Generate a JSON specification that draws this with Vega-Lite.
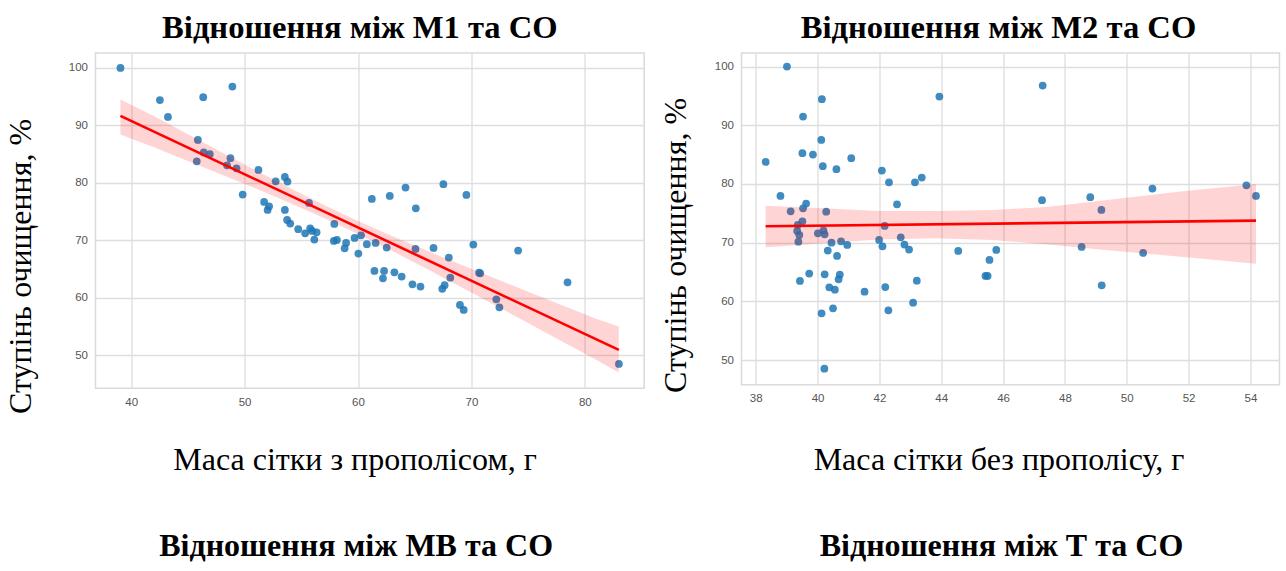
{
  "$schema": "https://vega.github.io/schema/vega-lite/v6.json",
  "background": "white",
  "padding": {"left": 2.5, "top": 11, "right": 0, "bottom": 0},
  "bounds": "flush",
  "columns": 2,
  "spacing": {"row": 157, "column": 97},
  "config": {
    "view": {"stroke": "#dadada", "strokeWidth": 1.5},
    "axis": {
      "labelFont": "Liberation Sans", "labelFontSize": 11.5, "labelColor": "#555555", "labelPadding": 8,
      "titleFont": "Liberation Serif", "titleFontSize": 32, "titleFontWeight": "normal", "titleColor": "#000000",
      "gridColor": "#dedede", "gridWidth": 1.3, "domain": false, "ticks": false
    },
    "title": {"font": "Liberation Serif", "fontSize": 32.6, "fontWeight": "bold", "color": "#000000", "baseline": "alphabetic", "offset": 8}
  },
  "datasets": {
    "pts1": [
      {"x": 39.05, "y": 100}, {"x": 42.53, "y": 94.4}, {"x": 46.35, "y": 94.9}, {"x": 48.92, "y": 96.75}, {"x": 43.24, "y": 91.47},
      {"x": 45.88, "y": 87.47}, {"x": 45.78, "y": 83.76}, {"x": 46.39, "y": 85.3}, {"x": 46.93, "y": 85.0}, {"x": 48.75, "y": 84.3},
      {"x": 48.45, "y": 83.06}, {"x": 49.29, "y": 82.54}, {"x": 51.22, "y": 82.25}, {"x": 49.83, "y": 77.96}, {"x": 52.74, "y": 80.28},
      {"x": 53.55, "y": 81.03}, {"x": 53.78, "y": 80.22}, {"x": 51.72, "y": 76.68}, {"x": 52.16, "y": 75.93}, {"x": 52.03, "y": 75.29},
      {"x": 53.55, "y": 75.29}, {"x": 53.75, "y": 73.55}, {"x": 54.02, "y": 72.91}, {"x": 54.73, "y": 71.93}, {"x": 55.34, "y": 71.23},
      {"x": 55.68, "y": 76.51}, {"x": 55.78, "y": 72.1}, {"x": 55.95, "y": 71.64}, {"x": 56.35, "y": 71.4}, {"x": 56.15, "y": 70.13},
      {"x": 57.91, "y": 72.85}, {"x": 57.87, "y": 69.9}, {"x": 58.14, "y": 70.07}, {"x": 58.95, "y": 69.55}, {"x": 58.82, "y": 68.62},
      {"x": 59.7, "y": 70.42}, {"x": 60.27, "y": 70.88}, {"x": 60.03, "y": 67.69}, {"x": 60.78, "y": 69.32}, {"x": 61.55, "y": 69.55},
      {"x": 62.53, "y": 68.74}, {"x": 61.22, "y": 77.2}, {"x": 62.8, "y": 77.73}, {"x": 64.19, "y": 79.18}, {"x": 65.1, "y": 75.58},
      {"x": 67.53, "y": 79.76}, {"x": 69.56, "y": 77.9}, {"x": 65.07, "y": 68.5}, {"x": 66.66, "y": 68.68}, {"x": 68.01, "y": 67.0},
      {"x": 70.17, "y": 69.26}, {"x": 74.12, "y": 68.21}, {"x": 61.45, "y": 64.68}, {"x": 62.3, "y": 64.68}, {"x": 62.2, "y": 63.4},
      {"x": 63.21, "y": 64.44}, {"x": 63.85, "y": 63.69}, {"x": 64.8, "y": 62.35}, {"x": 65.51, "y": 61.95}, {"x": 68.14, "y": 63.51},
      {"x": 67.43, "y": 61.57}, {"x": 67.64, "y": 62.2}, {"x": 70.68, "y": 64.38}, {"x": 70.78, "y": 64.27}, {"x": 68.99, "y": 58.76},
      {"x": 69.32, "y": 57.89}, {"x": 72.2, "y": 59.74}, {"x": 72.47, "y": 58.35}, {"x": 78.48, "y": 62.7}, {"x": 83.01, "y": 48.49}
    ],
    "band1": [
      {"x": 39.05, "lo": 88.4, "hi": 94.5}, {"x": 42, "lo": 86.19, "hi": 91.65}, {"x": 45, "lo": 83.82, "hi": 88.46},
      {"x": 48, "lo": 81.43, "hi": 85.29}, {"x": 51, "lo": 79.0, "hi": 82.16}, {"x": 54, "lo": 76.51, "hi": 79.09},
      {"x": 57, "lo": 73.9, "hi": 76.14}, {"x": 60, "lo": 71.12, "hi": 73.36}, {"x": 63, "lo": 68.17, "hi": 70.75},
      {"x": 66, "lo": 65.1, "hi": 68.26}, {"x": 69, "lo": 61.97, "hi": 65.83}, {"x": 72, "lo": 58.8, "hi": 63.44},
      {"x": 75, "lo": 55.61, "hi": 61.07}, {"x": 78, "lo": 52.41, "hi": 58.71}, {"x": 81, "lo": 49.2, "hi": 56.36},
      {"x": 83.0, "lo": 47.0, "hi": 55.0}
    ],
    "line1": [{"x": 39.05, "y": 91.65}, {"x": 83.0, "y": 50.93}],
    "pts2": [
      {"x": 39.01, "y": 100}, {"x": 38.32, "y": 83.75}, {"x": 38.8, "y": 77.95}, {"x": 39.13, "y": 75.34}, {"x": 40.14, "y": 94.43},
      {"x": 39.53, "y": 91.48}, {"x": 40.12, "y": 87.5}, {"x": 39.51, "y": 85.23}, {"x": 39.85, "y": 85.0}, {"x": 40.17, "y": 83.01},
      {"x": 41.09, "y": 84.38}, {"x": 40.61, "y": 82.5}, {"x": 39.63, "y": 76.65}, {"x": 39.53, "y": 75.85}, {"x": 40.28, "y": 75.28},
      {"x": 39.51, "y": 73.64}, {"x": 39.36, "y": 73.01}, {"x": 39.34, "y": 71.99}, {"x": 39.41, "y": 71.31}, {"x": 39.38, "y": 70.17},
      {"x": 40.01, "y": 71.59}, {"x": 40.19, "y": 72.1}, {"x": 40.23, "y": 71.42}, {"x": 40.45, "y": 70.0}, {"x": 40.76, "y": 70.23},
      {"x": 40.96, "y": 69.6}, {"x": 40.33, "y": 68.64}, {"x": 40.63, "y": 67.73}, {"x": 39.73, "y": 64.72}, {"x": 39.43, "y": 63.47},
      {"x": 40.23, "y": 64.6}, {"x": 40.72, "y": 64.55}, {"x": 40.68, "y": 63.75}, {"x": 40.38, "y": 62.39}, {"x": 40.56, "y": 61.99},
      {"x": 40.5, "y": 58.81}, {"x": 40.13, "y": 57.95}, {"x": 40.22, "y": 48.52}, {"x": 42.08, "y": 82.27}, {"x": 42.31, "y": 80.28},
      {"x": 43.15, "y": 80.28}, {"x": 43.37, "y": 81.08}, {"x": 42.57, "y": 76.53}, {"x": 42.17, "y": 72.84}, {"x": 41.99, "y": 70.45},
      {"x": 42.1, "y": 69.38}, {"x": 42.69, "y": 70.91}, {"x": 42.81, "y": 69.66}, {"x": 42.96, "y": 68.81}, {"x": 41.52, "y": 61.65},
      {"x": 42.19, "y": 62.44}, {"x": 42.29, "y": 58.47}, {"x": 43.09, "y": 59.77}, {"x": 43.21, "y": 63.52}, {"x": 43.94, "y": 94.89},
      {"x": 44.55, "y": 68.58}, {"x": 45.43, "y": 64.32}, {"x": 45.5, "y": 64.32}, {"x": 45.56, "y": 67.05}, {"x": 45.78, "y": 68.75},
      {"x": 47.28, "y": 96.76}, {"x": 47.26, "y": 77.22}, {"x": 48.82, "y": 77.73}, {"x": 49.18, "y": 75.57}, {"x": 48.54, "y": 69.26},
      {"x": 49.19, "y": 62.73}, {"x": 50.83, "y": 79.2}, {"x": 50.53, "y": 68.24}, {"x": 53.87, "y": 79.77}, {"x": 54.18, "y": 77.95}
    ],
    "band2": [
      {"x": 38.32, "lo": 69.2, "hi": 76.3}, {"x": 40.17, "lo": 69.9, "hi": 75.85}, {"x": 42.0, "lo": 70.55, "hi": 75.4},
      {"x": 43.82, "lo": 70.75, "hi": 75.4}, {"x": 45.65, "lo": 70.45, "hi": 75.55}, {"x": 47.48, "lo": 69.7, "hi": 76.1},
      {"x": 49.3, "lo": 68.75, "hi": 77.2}, {"x": 51.74, "lo": 67.6, "hi": 78.7}, {"x": 54.18, "lo": 66.4, "hi": 80.0}
    ],
    "line2": [{"x": 38.32, "y": 72.78}, {"x": 54.18, "y": 73.75}],
    "t3": [{"t": "Відношення між МВ та СО"}],
    "t4": [{"t": "Відношення між Т та СО"}]
  },
  "concat": [
    {
      "width": 548.7, "height": 335.3,
      "title": {"text": "Відношення між М1 та СО", "dx": -10},
      "encoding": {
        "x": {"field": "x", "type": "quantitative", "scale": {"domain": [36.85, 85.24], "nice": false, "zero": false},
              "axis": {"values": [40, 50, 60, 70, 80], "title": "Маса сітки з прополісом, г", "titleX": 259, "titleY": 81, "titleBaseline": "alphabetic"}},
        "y": {"field": "y", "type": "quantitative", "scale": {"domain": [44.25, 102.6], "nice": false, "zero": false},
              "axis": {"values": [50, 60, 70, 80, 90, 100], "title": "Ступінь очищення, %", "titleX": -65.3, "titleY": 213, "titleAngle": -90, "titleBaseline": "alphabetic"}}
      },
      "layer": [
        {"data": {"name": "pts1"}, "mark": {"type": "circle", "size": 60, "color": "#1f77b4", "opacity": 0.85}},
        {"data": {"name": "band1"}, "mark": {"type": "area", "color": "#ff0000", "opacity": 0.17},
         "encoding": {"y": {"field": "lo", "type": "quantitative"}, "y2": {"field": "hi"}}},
        {"data": {"name": "line1"}, "mark": {"type": "line", "color": "#ff0000", "strokeWidth": 2.6}}
      ]
    },
    {
      "width": 538, "height": 331.7,
      "title": {"text": "Відношення між М2 та СО", "dx": -12},
      "encoding": {
        "x": {"field": "x", "type": "quantitative", "scale": {"domain": [37.54, 54.94], "nice": false, "zero": false},
              "axis": {"values": [38, 40, 42, 44, 46, 48, 50, 52, 54], "title": "Маса сітки без прополісу, г", "titleX": 257, "titleY": 85, "titleBaseline": "alphabetic"}},
        "y": {"field": "y", "type": "quantitative", "scale": {"domain": [45.8, 102.3], "nice": false, "zero": false},
              "axis": {"values": [50, 60, 70, 80, 90, 100], "title": "Ступінь очищення, %", "titleX": -56, "titleY": 192, "titleAngle": -90, "titleBaseline": "alphabetic"}}
      },
      "layer": [
        {"data": {"name": "pts2"}, "mark": {"type": "circle", "size": 60, "color": "#1f77b4", "opacity": 0.85}},
        {"data": {"name": "band2"}, "mark": {"type": "area", "color": "#ff0000", "opacity": 0.17},
         "encoding": {"y": {"field": "lo", "type": "quantitative"}, "y2": {"field": "hi"}}},
        {"data": {"name": "line2"}, "mark": {"type": "line", "color": "#ff0000", "strokeWidth": 2.6}}
      ]
    },
    {
      "width": 548.7, "height": 20, "view": {"stroke": null},
      "data": {"name": "t3"},
      "mark": {"type": "text", "font": "Liberation Serif", "fontSize": 32, "fontWeight": "bold", "baseline": "alphabetic", "dx": -13.7, "color": "#000000"},
      "encoding": {"text": {"field": "t", "type": "nominal"}}
    },
    {
      "width": 538, "height": 20, "view": {"stroke": null},
      "data": {"name": "t4"},
      "mark": {"type": "text", "font": "Liberation Serif", "fontSize": 32, "fontWeight": "bold", "baseline": "alphabetic", "dx": -9, "color": "#000000"},
      "encoding": {"text": {"field": "t", "type": "nominal"}}
    }
  ]
}
